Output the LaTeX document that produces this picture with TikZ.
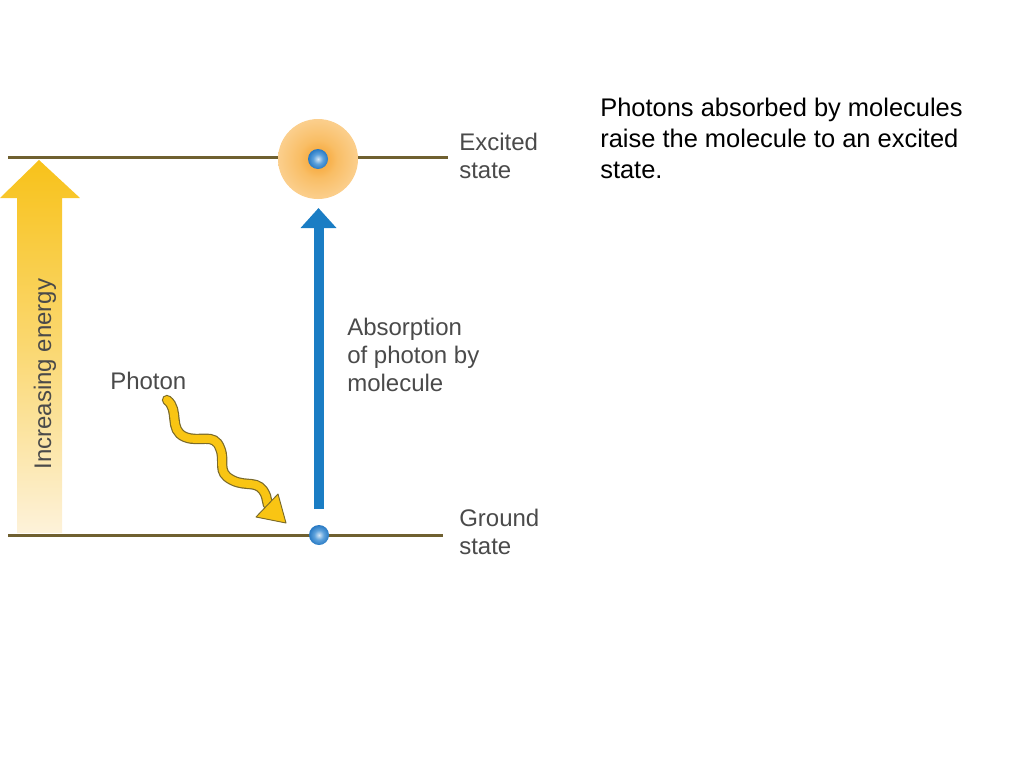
\documentclass[tikz,border=0pt]{standalone}
\usepackage{fontspec}
\setmainfont{Liberation Sans}
\usetikzlibrary{arrows.meta}
\definecolor{lvl}{HTML}{6F6030}
\definecolor{txt}{HTML}{4A4A4A}
\definecolor{ylw}{HTML}{F9C513}
\definecolor{ylwdark}{HTML}{7A6A2A}
\definecolor{blu}{HTML}{1A7DC4}
\definecolor{ytop}{HTML}{F8C21A}
\definecolor{ybot}{HTML}{FDF2DA}
\definecolor{glowA}{HTML}{F6A02A}
\definecolor{glowB}{HTML}{F9BE66}
\definecolor{glowC}{HTML}{FCD8A2}
\definecolor{glowD}{HTML}{FDE8C8}
\definecolor{dotA}{HTML}{D6E8F7}
\definecolor{dotB}{HTML}{5EA2DC}
\definecolor{dotC}{HTML}{1B70BE}
\definecolor{dotD}{HTML}{125697}
\pgfdeclareradialshading{glowshade}{\pgfpoint{0bp}{0bp}}{%
  color(0bp)=(glowA);
  color(12bp)=(glowB);
  color(32bp)=(glowC);
  color(49bp)=(glowD);
  color(50bp)=(white)}
\pgfdeclareradialshading{dotshade}{\pgfpoint{0bp}{0bp}}{%
  color(0bp)=(dotA);
  color(12bp)=(dotB);
  color(28bp)=(dotC);
  color(50bp)=(dotD)}
\tikzset{
  level/.style={draw=lvl, line width=2.25pt},
  lbl/.style={text=txt, font=\fontsize{18pt}{21pt}\selectfont, inner sep=0pt, align=left},
  note/.style={text=black, font=\fontsize{19.1pt}{23.25pt}\selectfont, inner sep=0pt, align=left},
  moldot/.style={circle, minimum size=15pt, inner sep=0pt, shading=dotshade},
}
\begin{document}
\begin{tikzpicture}[x=0.75pt, y=-0.75pt]
\useasboundingbox (0,0) rectangle (1024,768);
% energy levels
\coordinate (exL) at (8,157);
\coordinate (exR) at (448,157);
\coordinate (grL) at (8,535);
\coordinate (grR) at (443,535);
\draw[level] (exL) -- (exR);
\draw[level] (grL) -- (grR);
% increasing energy arrow
\shade[top color=ytop, bottom color=ybot, middle color=ytop!55!ybot]
  (17,533) -- (17,198) -- (0,198) -- (39,160) -- (80,198) -- (62,198) -- (62,533) -- cycle;
\node[lbl, rotate=90, anchor=base] (energy) at (51,374) {Increasing energy};
% excited glow and dots
\shade[shading=glowshade] (318,159) circle[radius=40];
\node[moldot] (exdot) at (318,159) {};
\node[moldot] (grdot) at (319,535) {};
% absorption arrow
\coordinate (abs0) at (318.5,509);
\coordinate (abs1) at (318.5,208);
\draw[blu, line width=7.5pt, -{Triangle[length=15pt,width=26pt]}] (abs0) -- (abs1);
% photon
\coordinate (ph0) at (167,400);
\coordinate (ph1) at (268,505);
\draw[ylwdark, line width=7.8pt, line cap=round]
  (ph0) .. controls (180,410) and (168,430) .. (185,437)
  .. controls (200,443) and (214,432) .. (220,448)
  .. controls (226,462) and (216,472) .. (232,480)
  .. controls (247,488) and (259,478) .. (266,496) -- (ph1);
\draw[ylw, line width=6pt, line cap=round]
  (ph0) .. controls (180,410) and (168,430) .. (185,437)
  .. controls (200,443) and (214,432) .. (220,448)
  .. controls (226,462) and (216,472) .. (232,480)
  .. controls (247,488) and (259,478) .. (266,496) -- (ph1);
\filldraw[fill=ylw, draw=ylwdark, line width=0.7pt, line join=round]
  (256,517) -- (278,494) -- (286,523) -- cycle;
% labels
\node[lbl, anchor=base west] (photon) at (110,389) {Photon};
\node[lbl, anchor=north west] (absorb) at (347,318) {Absorption\\of photon by\\molecule};
\node[lbl, anchor=north west] (excited) at (459,133) {Excited\\state};
\node[lbl, anchor=north west] (ground) at (459,508.5) {Ground\\state};
\node[note, anchor=north west] (caption) at (600,97.5) {Photons absorbed by molecules\\raise the molecule to an excited\\state.};
\end{tikzpicture}
\end{document}
